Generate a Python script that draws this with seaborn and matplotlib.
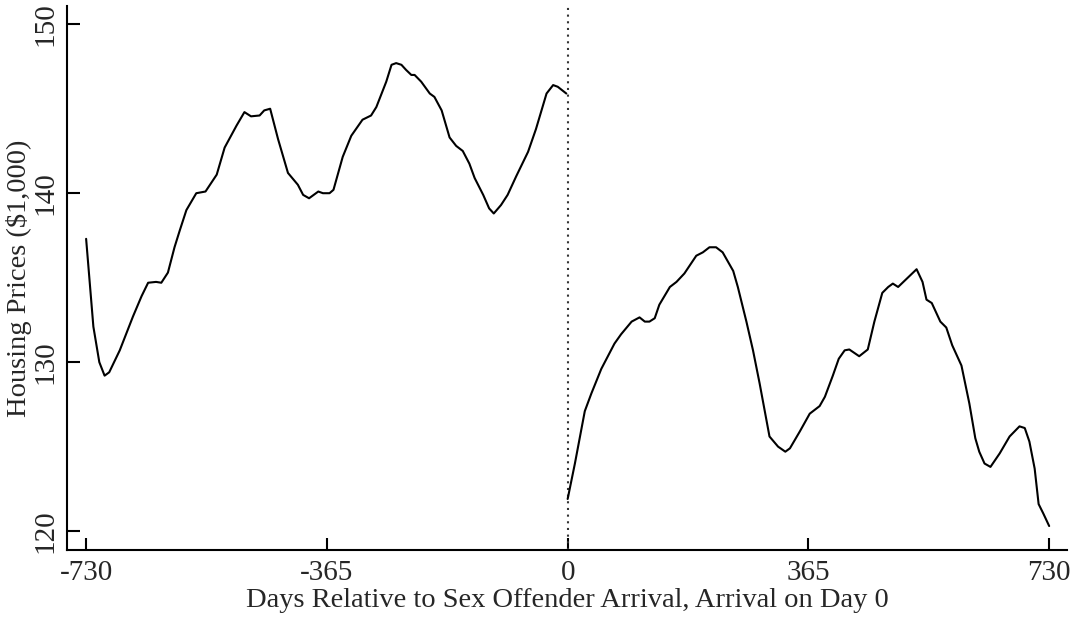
import pandas as pd
import matplotlib
matplotlib.use("Agg")
import matplotlib.pyplot as plt
import seaborn as sns

# ----- data ------------------------------------------------------------------
pre_days = [-730, -719, -710, -702, -695, -679, -659, -646, -636, -624,
            -616, -606, -596, -588, -578, -563, -549, -532, -520, -502,
            -490, -480, -467, -460, -451, -439, -424, -409, -401, -392,
            -378, -371, -361, -355, -341, -328, -311, -298, -290, -275,
            -267, -260, -252, -245, -237, -232, -222, -209, -202, -191,
            -179, -169, -159, -149, -141, -128, -119, -112, -101, -91,
            -78, -60, -48, -32, -22, -15, -2]
pre_prices = [137.3, 132.1, 130.0, 129.2, 129.4, 130.7, 132.7, 133.9, 134.7, 134.75,
              134.7, 135.3, 136.8, 137.8, 139.0, 140.0, 140.1, 141.1, 142.7, 144.0,
              144.8, 144.55, 144.6, 144.9, 145.0, 143.2, 141.2, 140.5, 139.9, 139.7,
              140.1, 140.0, 140.0, 140.2, 142.15, 143.4, 144.35, 144.6, 145.1, 146.6,
              147.6, 147.7, 147.6, 147.3, 147.0, 147.0, 146.6, 145.9, 145.7, 144.9,
              143.3, 142.8, 142.5, 141.75, 140.9, 139.9, 139.1, 138.8, 139.3, 139.9,
              141.0, 142.45, 143.8, 145.9, 146.4, 146.3, 145.9]

post_days = [0, 11, 26, 36, 51, 71, 81, 97, 109, 117,
             124, 132, 139, 155, 165, 177, 195, 205, 215, 225,
             235, 251, 258, 271, 281, 291, 306, 319, 330, 337,
             352, 367, 382, 390, 402, 411, 420, 427, 442, 455,
             465, 477, 486, 493, 501, 513, 529, 538, 544, 552,
             565, 574, 583, 597, 609, 618, 624, 632, 641, 655,
             670, 685, 693, 700, 708, 714, 721, 730]
post_prices = [121.9, 124.0, 127.1, 128.15, 129.6, 131.1, 131.65, 132.4, 132.65, 132.4,
               132.4, 132.6, 133.4, 134.45, 134.75, 135.25, 136.3, 136.5, 136.8, 136.8,
               136.5, 135.4, 134.45, 132.4, 130.7, 128.75, 125.6, 125.0, 124.7, 124.9,
               125.9, 126.95, 127.4, 127.95, 129.2, 130.2, 130.7, 130.75, 130.35, 130.75,
               132.4, 134.1, 134.45, 134.65, 134.45, 134.9, 135.5, 134.75, 133.7, 133.5,
               132.4, 132.05, 131.0, 129.8, 127.55, 125.5, 124.7, 124.0, 123.8, 124.6,
               125.6, 126.2, 126.1, 125.3, 123.7, 121.6, 121.05, 120.3]

x_ticks = [-730, -365, 0, 365, 730]
y_ticks = [120, 130, 140, 150]

# ----- style -----------------------------------------------------------------
sns.set_style("ticks")
plt.rcParams["font.family"] = ["Liberation Serif", "DejaVu Serif"]

df_pre = pd.DataFrame({"day": pre_days, "price": pre_prices})
df_post = pd.DataFrame({"day": post_days, "price": post_prices})

fig = plt.figure(figsize=(10.77, 6.18), dpi=100)
ax = fig.add_axes([0.0622, 0.110, 0.9285, 0.880])

sns.lineplot(data=df_pre, x="day", y="price", ax=ax, color="black",
             linewidth=1.5, estimator=None, sort=False)
sns.lineplot(data=df_post, x="day", y="price", ax=ax, color="black",
             linewidth=1.5, estimator=None, sort=False)

# arrival marker
ax.axvline(0, color="#333333", linewidth=1.5, linestyle=(0, (1, 2.2)), zorder=1)

ax.set_xlim(-759, 757)
ax.set_ylim(118.88, 151.07)

ax.set_xticks(x_ticks)
ax.set_xticklabels([str(t) for t in x_ticks], fontsize=21)
ax.set_yticks(y_ticks)
ax.set_yticklabels([str(t) for t in y_ticks], fontsize=21,
                   rotation=90, va="center")

ax.tick_params(axis="both", direction="in", length=9, width=1.5,
               color="black")
ax.tick_params(axis="y", pad=6)
ax.tick_params(axis="x", pad=7.5)

for side in ["left", "bottom"]:
    ax.spines[side].set_linewidth(1.5)
    ax.spines[side].set_color("black")
sns.despine(ax=ax)

ax.set_xlabel("Days Relative to Sex Offender Arrival, Arrival on Day 0",
              fontsize=20.5, labelpad=1)
ax.set_ylabel("Housing Prices ($1,000)", fontsize=20.5, labelpad=0.5)

fig.savefig("out.png", dpi=100)
plt.close(fig)
